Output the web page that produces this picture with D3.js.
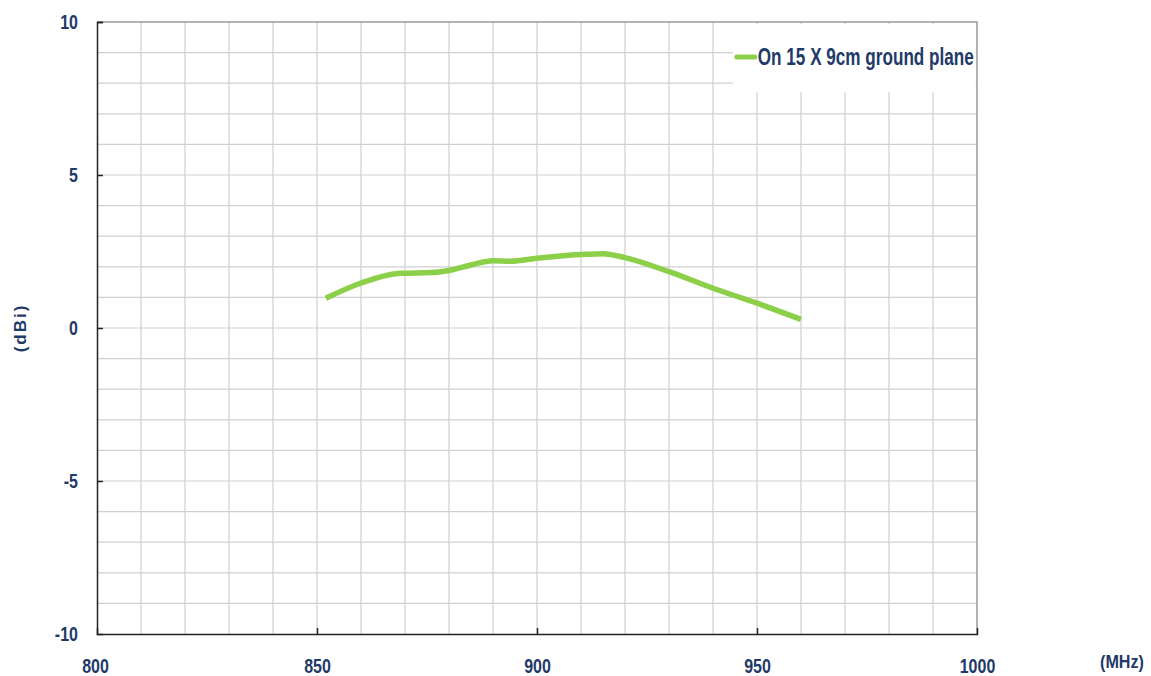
<!DOCTYPE html>
<html>
<head>
<meta charset="utf-8">
<script src="https://cdn.jsdelivr.net/npm/d3@7"></script>
<style>
  body { margin: 0; background: #fff; }
  svg text { font-family: "Liberation Sans", Arial, sans-serif; font-weight: 700; fill: #1f3a68; }
</style>
</head>
<body>
<div id="chart"></div>
<script>
// gain vs frequency
const freqs = [852, 860, 869, 876, 880, 885, 890, 894, 900, 910, 915, 920, 930, 940, 950, 960];
const gains = [0.97, 1.47, 1.79, 1.81, 1.88, 2.06, 2.20, 2.18, 2.28, 2.40, 2.43, 2.30, 1.84, 1.30, 0.81, 0.28];
const xTicks = [800, 850, 900, 950, 1000];
const yTicks = [-10, -5, 0, 5, 10];
const seriesName = 'On 15 X 9cm ground plane';

const W = 1151, H = 676;
const M = { TOP: 22, LEFT: 97, RIGHT: 174, BOTTOM: 42 };
const w = W - M.LEFT - M.RIGHT, h = H - M.TOP - M.BOTTOM;

const svg = d3.select('#chart').append('svg')
    .attr('width', W)
    .attr('height', H);
const g = svg.append('g').attr('transform', `translate(${M.LEFT},${M.TOP})`);

const x = d3.scaleLinear().domain([800, 1000]).range([0, w]);
const y = d3.scaleLinear().domain([-10, 10]).range([h, 0]);

// no narrow font installed, so squeeze the text a bit
function narrow(sel, k) {
    sel.each(function() {
        const len = this.getComputedTextLength();
        d3.select(this).attr('textLength', len * k).attr('lengthAdjust', 'spacingAndGlyphs');
    });
}

// grid, every 10 MHz and every 1 dB
g.append('g')
    .selectAll('line')
    .data(d3.range(810, 1000, 10))
    .join('line')
    .attr('x1', d => x(d)).attr('x2', d => x(d))
    .attr('y1', 0).attr('y2', h)
    .attr('stroke', '#cfcfcf').attr('stroke-width', 1.2);
g.append('g')
    .selectAll('line')
    .data(d3.range(-9, 10, 1))
    .join('line')
    .attr('x1', 0).attr('x2', w)
    .attr('y1', d => y(d)).attr('y2', d => y(d))
    .attr('stroke', '#cfcfcf').attr('stroke-width', 1.2);

// top and right border
g.append('path')
    .attr('d', `M0,0H${w}V${h}`)
    .attr('fill', 'none')
    .attr('stroke', '#999').attr('stroke-width', 1.5);

// legend box sits over the grid
const lx = x(944.5), ly = 2;
g.append('rect')
    .attr('x', lx).attr('y', ly)
    .attr('width', w - lx - 1.5).attr('height', 68)
    .attr('fill', '#fff');
g.append('line')
    .attr('x1', lx + 4).attr('x2', lx + 22)
    .attr('y1', 35).attr('y2', 35)
    .attr('stroke', '#8ccf48').attr('stroke-width', 5)
    .attr('stroke-linecap', 'round');
g.append('text')
    .attr('x', lx + 25).attr('y', 43)
    .attr('font-size', 23)
    .attr('textLength', 216).attr('lengthAdjust', 'spacingAndGlyphs')
    .text(seriesName);

// axes
const fmt = d => String(d);
const xAxis = g.append('g')
    .attr('transform', `translate(0,${h})`)
    .call(d3.axisBottom(x).tickValues(xTicks).tickSize(-6).tickPadding(25).tickFormat(fmt));
const yAxis = g.append('g')
    .call(d3.axisLeft(y).tickValues(yTicks).tickSize(-6).tickPadding(19).tickFormat(fmt));
[xAxis, yAxis].forEach(a => {
    a.select('.domain').attr('stroke', '#222').attr('stroke-width', 1.5);
    a.selectAll('.tick line').attr('stroke', '#222').attr('stroke-width', 1.5);
    a.selectAll('.tick text').attr('font-size', 20).attr('fill', '#1f3a68')
        .style('font-family', '"Liberation Sans", Arial, sans-serif').style('font-weight', 700)
        .call(narrow, 0.8);
});
xAxis.selectAll('.tick')
    .filter(d => d === 800 || d === 1000)
    .select('line').remove();
yAxis.selectAll('.tick')
    .filter(d => d === -10)
    .select('line').remove();
xAxis.selectAll('.tick text').filter(d => d === 800).attr('dx', -2);

// axis titles
svg.append('text')
    .attr('x', 1122).attr('y', 668)
    .attr('text-anchor', 'middle')
    .attr('font-size', 19)
    .text('(MHz)')
    .call(narrow, 0.85);
svg.append('text')
    .attr('transform', `translate(26,${M.TOP + y(0)}) rotate(-90)`)
    .attr('text-anchor', 'middle')
    .attr('font-size', 17)
    .style('letter-spacing', '2px')
    .text('(dBi)');

// the gain curve
const line = d3.line()
    .x((d, i) => x(freqs[i]))
    .y(d => y(d))
    .curve(d3.curveMonotoneX);
g.append('path')
    .datum(gains)
    .attr('d', line)
    .attr('fill', 'none')
    .attr('stroke', '#8ccf48')
    .attr('stroke-width', 5.5)
    .attr('stroke-linecap', 'butt')
    .attr('stroke-linejoin', 'round');
</script>
</body>
</html>
